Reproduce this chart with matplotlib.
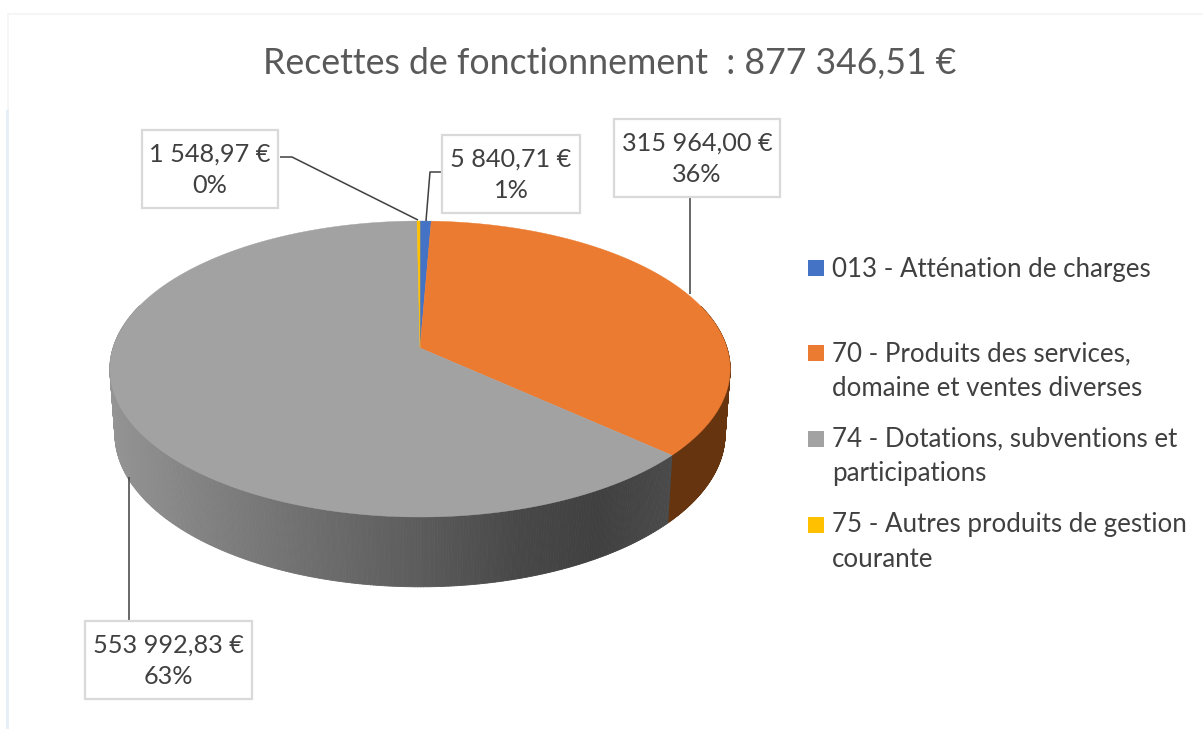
import numpy as np
import matplotlib
matplotlib.use("Agg")
import matplotlib.pyplot as plt
from matplotlib.collections import PolyCollection
from matplotlib.patches import Rectangle

plt.rcParams['font.family'] = ['Lato', 'DejaVu Sans']

# Data
title = "Recettes de fonctionnement  : 877 346,51 €"
categories = ["013 - Atténation de charges",
              "70 - Produits des services,\ndomaine et ventes diverses",
              "74 - Dotations, subventions et\nparticipations",
              "75 - Autres produits de gestion\ncourante"]
values = [5840.71, 315964.00, 553992.83, 1548.97]
value_labels = ["5 840,71 €\n1%", "315 964,00 €\n36%", "553 992,83 €\n63%", "1 548,97 €\n0%"]
colors = ["#4472C4", "#EB7B30", "#A2A2A2", "#FFC000"]
wall_colors = ["#2A4478", "#66340F", "#606060", "#9A7400"]

fig = plt.figure(figsize=(12.03, 7.29), dpi=100)
ax = fig.add_axes([0, 0, 1, 1])
ax.set_xlim(0, 1203)
ax.set_ylim(729, 0)
ax.axis('off')

# faint frame of the screenshot
ax.add_patch(Rectangle((8, 14), 1300, 800, fc='white', ec='#F4F4F4', lw=1.2, zorder=0))
ax.add_patch(Rectangle((6, 110), 3, 619, fc='#E6EEF8', ec='none', zorder=0))


def project(theta, a, b, cy, cx=420.0, k=0.142):
    # theta clockwise from the top of the pie, perspective onto the screen
    x = np.sin(theta)
    y = np.cos(theta)
    d = 1 + k * y
    return cx + a * x / d, cy - b * y / d


def top_rim(theta):
    return project(theta, 307, 145, 348)


def bottom_rim(theta):
    return project(theta, 302, 150, 412)


fractions = np.array(values) / sum(values)
edges = np.concatenate([[0], np.cumsum(fractions)]) * 2 * np.pi

# side wall, shaded along x
shade_x = [110, 200, 300, 420, 520, 600, 672]
shade_v = [0.58, 0.51, 0.44, 0.36, 0.28, 0.25, 0.29]
for i in [1, 2]:
    th = np.linspace(edges[i], edges[i + 1], 500)
    x0, y0 = top_rim(th)
    x1, y1 = bottom_rim(th)
    quads = []
    cols = []
    for j in range(len(th) - 1):
        if np.cos(th[j]) > 0.3:
            continue
        quads.append([(x0[j], y0[j]), (x0[j + 1], y0[j + 1]), (x1[j + 1], y1[j + 1]), (x1[j], y1[j])])
        if i == 2:
            v = np.interp(x0[j], shade_x, shade_v)
            cols.append((v, v, v))
        else:
            cols.append(matplotlib.colors.to_rgb(wall_colors[i]))
    ax.add_collection(PolyCollection(quads, facecolors=cols, edgecolors=cols, linewidths=0.6, zorder=2))

# top face
for i in range(len(values)):
    th = np.linspace(edges[i], edges[i + 1], 300)
    xs, ys = top_rim(th)
    ax.fill(np.r_[420, xs], np.r_[348, ys], color=colors[i], lw=0.3, zorder=3)

# data labels
boxes = [(442, 135, 138, 78), (614, 119, 166, 78), (85, 621, 167, 78), (142, 130, 136, 78)]
leaders = [([442, 430, 426], [172, 172, 221]),
           ([690, 690], [197, 294]),
           ([129, 129], [621, 477]),
           ([280, 292, 418], [157, 157, 220])]
for lab, box, lead in zip(value_labels, boxes, leaders):
    ax.plot(lead[0], lead[1], color='#404040', lw=1.1, zorder=4, solid_capstyle='butt')
    ax.add_patch(Rectangle(box[:2], box[2], box[3], fc='white', ec='#D9D9D9', lw=1.6, zorder=5))
    ax.text(box[0] + box[2] / 2, box[1] + box[3] / 2 + 1, lab, ha='center', va='center',
            fontsize=18.2, color='#404040', linespacing=1.46, zorder=6)

# legend
legend_y = [268, 353, 439, 525]
legend_text_y = [269, 371, 456, 542]
for cat, col, ly, ty in zip(categories, colors, legend_y, legend_text_y):
    ax.add_patch(Rectangle((808, ly - 8), 16, 16, fc=col, ec='none', zorder=3))
    ax.text(832, ty, cat, ha='left', va='center', fontsize=18.6, color='#404040', linespacing=1.46)

ax.text(610, 63, title, ha='center', va='center', fontsize=25.7, color='#595959')

fig.savefig('out.png', dpi=100)
